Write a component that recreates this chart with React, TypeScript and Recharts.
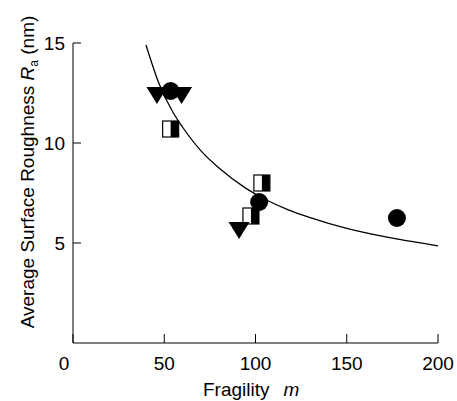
import React from 'react';
import { ComposedChart, Line, Scatter, XAxis, YAxis } from 'recharts';

// fitted curve
const curveM = [40, 47, 55, 60, 70, 80, 95, 106, 118, 130, 150, 175, 200];
const curveRa = [14.9, 13.0, 11.5, 10.8, 9.62, 8.75, 7.72, 7.15, 6.66, 6.27, 5.73, 5.24, 4.86];

// measured points
const triangleM = [46, 59.5, 91];
const triangleRa = [12.5, 12.5, 5.75];
const circleM = [53.5, 102, 177.5];
const circleRa = [12.6, 7.05, 6.25];
const squareM = [53.5, 103.5, 97.5];
const squareRa = [10.7, 8.0, 6.35];

const xTicks = [0, 50, 100, 150, 200];
const yTicks = [5, 10, 15];

const zip = (ms: number[], ras: number[]) => ms.map((m, i) => ({ m, ra: ras[i] }));

const curve = zip(curveM, curveRa);
const triangles = zip(triangleM, triangleRa);
const circles = zip(circleM, circleRa);
const squares = zip(squareM, squareRa);

const FONT = 'Liberation Sans, Arial, sans-serif';

const Triangle = (props: any) => {
  const { cx, cy } = props;
  return (
    <path
      d={`M${cx - 10.5},${cy - 6} L${cx + 10.5},${cy - 6} L${cx},${cy + 11} Z`}
      fill="#000"
    />
  );
};

const Dot = (props: any) => {
  const { cx, cy } = props;
  return <circle cx={cx} cy={cy} r={9} fill="#000" />;
};

const HalfSquare = (props: any) => {
  const { cx, cy } = props;
  return (
    <g>
      <rect x={cx - 8} y={cy - 8} width={16} height={16} fill="#fff" stroke="#000" strokeWidth={1.2} />
      <rect x={cx} y={cy - 8} width={8} height={16} fill="#000" />
    </g>
  );
};

const XTick = (props: any) => {
  const { x, y, payload } = props;
  const shift = payload.value === 0 ? -9 : 0;
  return (
    <g>
      <line x1={x} y1={y} x2={x} y2={y - 9} stroke="#000" />
      <text x={x + shift} y={y + 27} textAnchor="middle" fontSize={19} fontFamily={FONT} fill="#000">
        {payload.value}
      </text>
    </g>
  );
};

const YTick = (props: any) => {
  const { x, y, payload } = props;
  return (
    <g>
      <line x1={x} y1={y} x2={x + 8} y2={y} stroke="#000" />
      <text x={x - 8} y={y + 7} textAnchor="end" fontSize={19} fontFamily={FONT} fill="#000">
        {payload.value}
      </text>
    </g>
  );
};

const YLabel = () => (
  <text
    x={34}
    y={172}
    transform="rotate(-90, 34, 172)"
    textAnchor="middle"
    fontSize={19}
    fontFamily={FONT}
    fill="#000"
  >
    Average Surface Roughness{' '}
    <tspan fontStyle="italic">R</tspan>
    <tspan fontSize={12} dy={4}>a</tspan>
    <tspan dy={-4}> (nm)</tspan>
  </text>
);

const XLabel = () => (
  <text x={203} y={396} fontSize={19} fontFamily={FONT} fill="#000">
    Fragility
    <tspan dx={14} fontStyle="italic">m</tspan>
  </text>
);

const App = () => {
  return (
    <div style={{ position: 'absolute', left: 0, top: 0, background: '#fff' }}>
      <ComposedChart
        width={457}
        height={401}
        margin={{ top: 43, right: 19, bottom: 0, left: 23 }}
      >
        <XAxis
          dataKey="m"
          type="number"
          domain={[0, 200]}
          ticks={xTicks}
          height={58}
          tickSize={0}
          tickMargin={0}
          tickLine={false}
          tick={<XTick />}
          axisLine={{ stroke: '#000' }}
          label={{ content: () => <XLabel /> }}
          interval={0}
        />
        <YAxis
          dataKey="ra"
          type="number"
          domain={[0, 15]}
          ticks={yTicks}
          width={50}
          tickSize={0}
          tickMargin={0}
          tickLine={false}
          tick={<YTick />}
          axisLine={{ stroke: '#000' }}
          label={{ content: () => <YLabel /> }}
          interval={0}
        />
        <Line
          data={curve}
          dataKey="ra"
          type="monotone"
          stroke="#000"
          strokeWidth={1.3}
          dot={false}
          isAnimationActive={false}
        />
        <Scatter data={squares} dataKey="ra" shape={<HalfSquare />} isAnimationActive={false} />
        <Scatter data={circles} dataKey="ra" shape={<Dot />} isAnimationActive={false} />
        <Scatter data={triangles} dataKey="ra" shape={<Triangle />} isAnimationActive={false} />
      </ComposedChart>
    </div>
  );
};

export default App;
